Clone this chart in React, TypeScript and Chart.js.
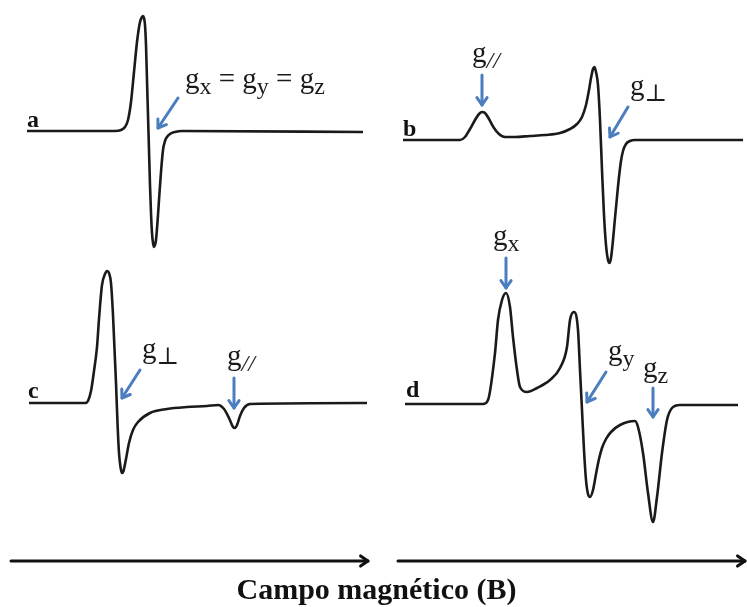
import React, { useEffect, useRef } from "react";
import { Chart, registerables } from "chart.js";

Chart.register(...registerables);

// ---------- Spectrum a (isotropic) ----------
const aField = [27, 115, 121, 125, 128, 131, 134, 137, 140, 142, 143, 144, 145, 146, 147, 148, 149, 150, 151, 152, 153, 154, 155, 156, 158, 159, 161, 163, 165, 167, 170, 175, 182, 363];
const aSignal = [0, 0, 1, 4, 11, 29, 59, 89, 109, 114, 115, 113, 106, 86, 51, 16, -19, -54, -82, -102, -112, -116, -114, -109, -84, -69, -41, -19, -10, -6, -3, -1, 0, -1];

// ---------- Spectrum b (axial, g// > g⊥) ----------
const bField = [30, 87, 92, 97, 102, 106, 109, 112, 116, 121, 126, 132, 142, 157, 172, 187, 197, 204, 209, 213, 216, 218, 220, 221.5, 223, 225, 227, 229, 231, 233, 235, 236.5, 238, 240, 242, 244, 246, 248, 250, 253, 257, 262, 370];
const bSignal = [0, 0, 3, 11, 20, 26, 28, 27, 21, 12, 6, 3, 3, 4, 5, 7, 11, 16, 23, 35, 50, 62, 71, 73, 68, 55, 20, -30, -75, -105, -120, -123, -118, -100, -78, -57, -37, -21, -11, -4, -1, 0, 0];

// ---------- Spectrum c (axial, g⊥ > g//) ----------
const cField = [29, 85, 88, 91, 94, 97, 99, 102, 105, 107, 109, 111, 113, 116, 117.5, 119, 120.5, 122, 123.5, 126, 129, 133, 138, 150, 167, 187, 207, 218, 224, 229, 233, 235, 237, 240, 244, 250, 367];
const cSignal = [0, 0, 2, 12, 32, 56, 84, 118, 129, 132, 130, 120, 88, 20, -20, -50, -64, -70, -68, -56, -40, -27, -19, -10, -6, -4, -3, -2, -6, -15, -24, -25, -22, -13, -5, -1, 0];

// ---------- Spectrum d (rhombic) ----------
const dField = [32, 110, 115, 122, 125, 129, 133, 137, 140, 144, 147, 154, 164, 177, 187, 194, 197, 201, 205, 207, 209, 211, 213, 215, 217, 220, 223, 226, 229, 233, 238, 247, 262, 265, 270, 275, 280, 284, 289, 294, 299, 307, 365];
const dSignal = [0, 0, 4, 51, 84, 104, 111, 97, 67, 34, 17, 12, 16, 24, 36, 57, 84, 92, 74, 34, -6, -46, -76, -90, -93, -86, -70, -55, -44, -35, -28, -21, -17, -23, -49, -89, -118, -93, -49, -16, -4, -1, -1];

// ---------- Panel letters ----------
const panelLetters = ["a", "b", "c", "d"];
const letterField = [27, 30, 28, 33];
const letterSignal = [4, 4, 5, 7];

// ---------- g-value labels (field, signal, text) ----------
const aLabels: [number, number, string][] = [[185, 43, "g_x = g_y = g_z"]];
const bLabels: [number, number, string][] = [[99, 78, "g_//"], [257, 45, "g_⊥"]];
const cLabels: [number, number, string][] = [[142, 45, "g_⊥"], [227, 38, "g_//"]];
const dLabels: [number, number, string][] = [[120, 159, "g_x"], [235, 44, "g_y"], [270, 27, "g_z"]];

// ---------- Blue arrows: [fromField, fromSignal, toField, toSignal] ----------
const aArrows = [[178, 33, 158, 3]];
const bArrows = [[109, 65, 109, 35], [255, 33, 237, 3]];
const cArrows = [[140, 33, 122, 5], [234, 25, 234, -5]];
const dArrows = [[133, 146, 133, 116], [233, 32, 214, 2], [280, 16, 280, -13]];

// ---------- Magnetic-field axis arrows: [startField, endField, signal] ----------
const cFieldAxis = [11, 368, -158];
const dFieldAxis = [25, 372, -157];

const axisTitle = "Campo magnético (B)";

const INK = "#1a1a1a";
const BLUE = "#4a7ebf";
const SERIF = '"Liberation Serif", "Times New Roman", "DejaVu Serif", serif';

type PanelCfg = {
  left: number; top: number; w: number; h: number;
  xMin: number; xMax: number; yMin: number; yMax: number;
  field: number[]; signal: number[];
  letter: number;
  labels: [number, number, string][];
  arrows: number[][];
  axis?: number[];
};

const panels: PanelCfg[] = [
  { left: 0, top: 0, w: 373, h: 265, xMin: 0, xMax: 373, yMin: -134, yMax: 131, field: aField, signal: aSignal, letter: 0, labels: aLabels, arrows: aArrows },
  { left: 373, top: 0, w: 374, h: 275, xMin: 0, xMax: 374, yMin: -135, yMax: 140, field: bField, signal: bSignal, letter: 1, labels: bLabels, arrows: bArrows },
  { left: 0, top: 265, w: 373, h: 310, xMin: 0, xMax: 373, yMin: -172, yMax: 138, field: cField, signal: cSignal, letter: 2, labels: cLabels, arrows: cArrows, axis: cFieldAxis },
  { left: 373, top: 215, w: 374, h: 360, xMin: 0, xMax: 374, yMin: -171, yMax: 189, field: dField, signal: dSignal, letter: 3, labels: dLabels, arrows: dArrows, axis: dFieldAxis },
];

function drawArrow(ctx: CanvasRenderingContext2D, x1: number, y1: number, x2: number, y2: number, color: string, lw: number, head: number, spread: number) {
  ctx.save();
  ctx.strokeStyle = color;
  ctx.lineWidth = lw;
  ctx.lineCap = "round";
  ctx.lineJoin = "round";
  ctx.beginPath();
  ctx.moveTo(x1, y1);
  ctx.lineTo(x2, y2);
  ctx.stroke();
  const a = Math.atan2(y2 - y1, x2 - x1);
  ctx.beginPath();
  ctx.moveTo(x2 - head * Math.cos(a - spread), y2 - head * Math.sin(a - spread));
  ctx.lineTo(x2, y2);
  ctx.lineTo(x2 - head * Math.cos(a + spread), y2 - head * Math.sin(a + spread));
  ctx.stroke();
  ctx.restore();
}

function drawRich(ctx: CanvasRenderingContext2D, str: string, x: number, y: number) {
  // "_" makes the following run (until space) a subscript
  const segs: { t: string; sub: boolean }[] = [];
  let i = 0;
  while (i < str.length) {
    if (str[i] === "_") {
      let j = i + 1;
      while (j < str.length && str[j] !== " ") j++;
      segs.push({ t: str.slice(i + 1, j), sub: true });
      i = j;
    } else {
      let j = i;
      while (j < str.length && str[j] !== "_") j++;
      segs.push({ t: str.slice(i, j), sub: false });
      i = j;
    }
  }
  ctx.save();
  ctx.fillStyle = INK;
  ctx.textBaseline = "alphabetic";
  ctx.textAlign = "left";
  let cx = x;
  for (const s of segs) {
    const italic = s.t === "//";
    ctx.font = s.sub ? `${italic ? "italic " : ""}24px ${SERIF}` : `29px ${SERIF}`;
    ctx.fillText(s.t, cx, s.sub ? y + 6 : y);
    cx += ctx.measureText(s.t).width;
  }
  ctx.restore();
}

const annotPlugin = {
  id: "annot",
  afterDatasetsDraw(chart: any, _args: any, opts: any) {
    const cfg: PanelCfg = opts.cfg;
    if (!cfg) return;
    const ctx: CanvasRenderingContext2D = chart.ctx;
    const X = (v: number) => chart.scales.x.getPixelForValue(v);
    const Y = (v: number) => chart.scales.y.getPixelForValue(v);

    ctx.save();
    ctx.fillStyle = "#111";
    ctx.font = `bold 24px ${SERIF}`;
    ctx.textBaseline = "alphabetic";
    ctx.fillText(panelLetters[cfg.letter], X(letterField[cfg.letter]), Y(letterSignal[cfg.letter]));
    ctx.restore();

    for (const [f, s, t] of cfg.labels) drawRich(ctx, t, X(f), Y(s));
    for (const [f1, s1, f2, s2] of cfg.arrows) drawArrow(ctx, X(f1), Y(s1), X(f2), Y(s2), BLUE, 3, 9, 0.6);
    if (cfg.axis) {
      const [f1, f2, s] = cfg.axis;
      drawArrow(ctx, X(f1), Y(s), X(f2), Y(s), "#111", 3, 9, 0.6);
    }
  },
};

function Panel({ cfg }: { cfg: PanelCfg }) {
  const ref = useRef<HTMLCanvasElement>(null);
  useEffect(() => {
    const chart = new Chart(ref.current as HTMLCanvasElement, {
      type: "line",
      data: {
        datasets: [
          {
            data: cfg.field.map((f, i) => ({ x: f, y: cfg.signal[i] })),
            borderColor: INK,
            borderWidth: 2.6,
            pointRadius: 0,
            cubicInterpolationMode: "monotone",
            fill: false,
            clip: false as any,
          },
        ],
      },
      options: {
        animation: false,
        responsive: false,
        maintainAspectRatio: false,
        devicePixelRatio: 1,
        layout: { padding: 0 },
        events: [],
        scales: {
          x: { type: "linear", display: false, min: cfg.xMin, max: cfg.xMax },
          y: { type: "linear", display: false, min: cfg.yMin, max: cfg.yMax },
        },
        plugins: {
          legend: { display: false },
          tooltip: { enabled: false },
          annot: { cfg },
        } as any,
      },
      plugins: [annotPlugin as any],
    });
    return () => chart.destroy();
  }, []);
  return (
    <canvas
      ref={ref}
      width={cfg.w}
      height={cfg.h}
      style={{ position: "absolute", left: cfg.left, top: cfg.top, width: cfg.w, height: cfg.h }}
    />
  );
}

export default function App() {
  return (
    <div style={{ position: "fixed", left: 0, top: 0, width: 747, height: 607, background: "#fff", overflow: "hidden" }}>
      {panels.map((p, i) => (
        <Panel key={i} cfg={p} />
      ))}
      <div
        style={{
          position: "absolute",
          left: 3,
          top: 572,
          width: 747,
          textAlign: "center",
          fontFamily: SERIF,
          fontWeight: "bold",
          fontSize: 30,
          lineHeight: "34px",
          color: "#111",
        }}
      >
        {axisTitle}
      </div>
    </div>
  );
}
